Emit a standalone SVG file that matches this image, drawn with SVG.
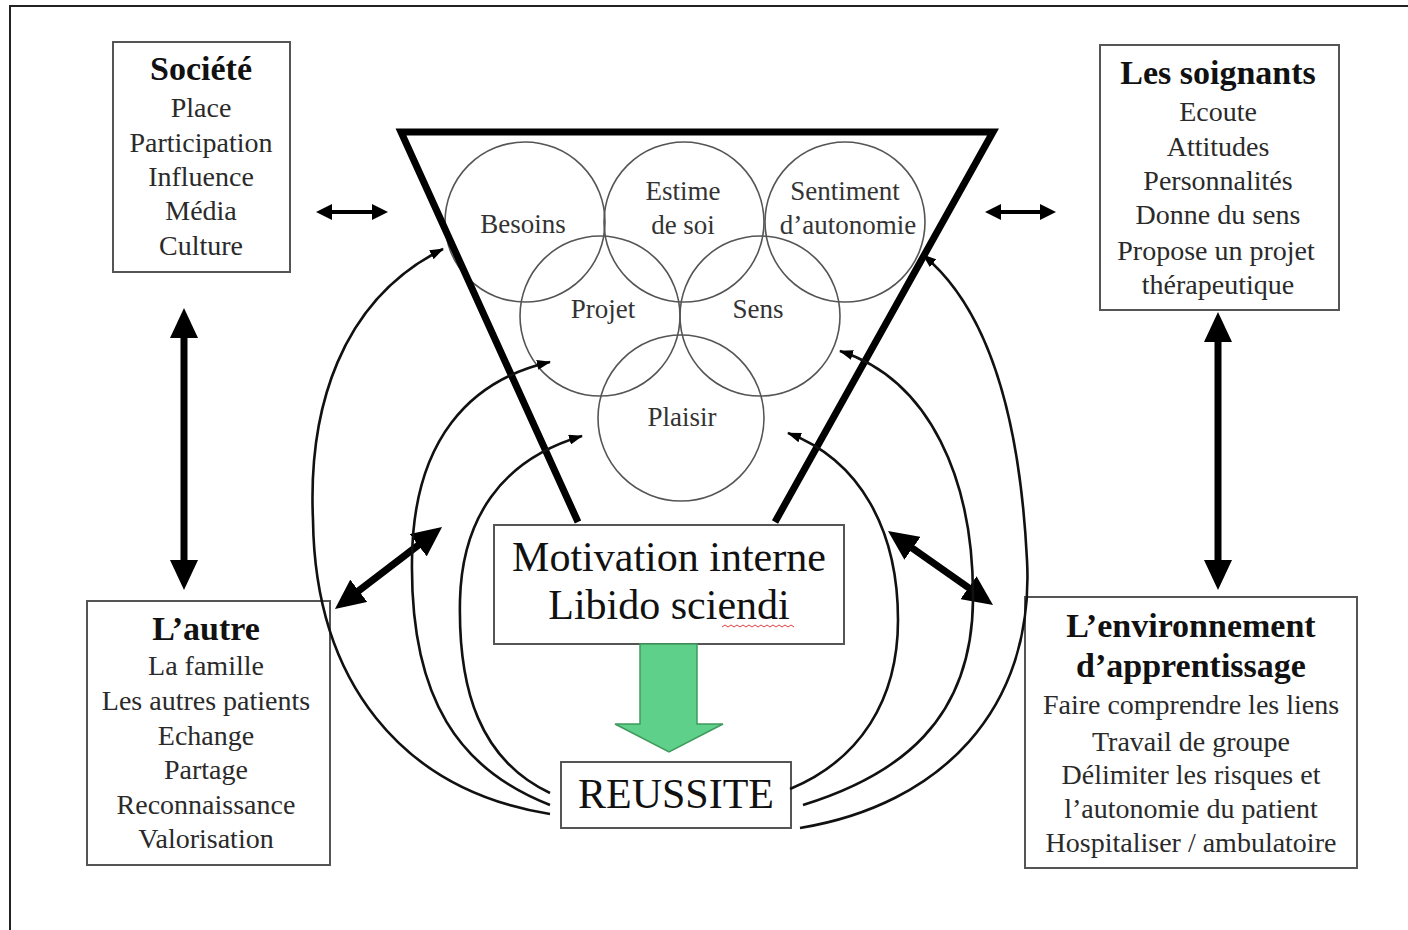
<svg xmlns="http://www.w3.org/2000/svg" width="1408" height="930" viewBox="0 0 1408 930">
<style>
.box{fill:#fff;stroke:#555;stroke-width:2}
.t{font-family:"Liberation Serif","Times New Roman",serif;font-size:28px;fill:#2a2a2a;text-anchor:middle}
.h{font-family:"Liberation Serif","Times New Roman",serif;font-size:34px;font-weight:bold;fill:#111;text-anchor:middle}
.c{font-family:"Liberation Serif","Times New Roman",serif;font-size:27px;fill:#333;text-anchor:middle}
.big{font-family:"Liberation Serif","Times New Roman",serif;font-size:42px;fill:#111;text-anchor:middle}
.circ{fill:none;stroke:#555;stroke-width:1.6}
.curve{fill:none;stroke:#111;stroke-width:2.6;marker-end:url(#hs)}
.thick{stroke:#000;stroke-width:7;marker-start:url(#hb);marker-end:url(#hb)}
.thin{stroke:#000;stroke-width:4;marker-start:url(#hm);marker-end:url(#hm)}
</style>
<defs>
<marker id="hb" viewBox="0 0 30 28" markerWidth="30" markerHeight="28" refX="6" refY="14" markerUnits="userSpaceOnUse" orient="auto-start-reverse"><path d="M0,0 L30,14 L0,28 z" fill="#000"/></marker>
<marker id="hm" viewBox="0 0 16 16" markerWidth="16" markerHeight="16" refX="4" refY="8" markerUnits="userSpaceOnUse" orient="auto-start-reverse"><path d="M0,0 L16,8 L0,16 z" fill="#000"/></marker>
<marker id="hs" viewBox="0 0 14 10" markerWidth="14" markerHeight="10" refX="13" refY="5" markerUnits="userSpaceOnUse" orient="auto"><path d="M0,0 L14,5 L0,10 z" fill="#000"/></marker>
</defs>
<rect width="1408" height="930" fill="#fff"/>
<path d="M10,930 L10,6 L1408,6" fill="none" stroke="#222" stroke-width="2"/>

<g id="societe">
<rect class="box" x="113" y="42" width="177" height="230"/>
<text class="h" x="201" y="80">Société</text>
<text class="t" x="201" y="117">Place</text>
<text class="t" x="201" y="152">Participation</text>
<text class="t" x="201" y="186">Influence</text>
<text class="t" x="201" y="220">Média</text>
<text class="t" x="201" y="255">Culture</text>
</g>

<g id="soignants">
<rect class="box" x="1100" y="45" width="239" height="265"/>
<text class="h" x="1218" y="84">Les soignants</text>
<text class="t" x="1218" y="121">Ecoute</text>
<text class="t" x="1218" y="156">Attitudes</text>
<text class="t" x="1218" y="190">Personnalités</text>
<text class="t" x="1218" y="224">Donne du sens</text>
<text class="t" x="1216" y="260">Propose un projet</text>
<text class="t" x="1218" y="294">thérapeutique</text>
</g>

<g id="autre">
<rect class="box" x="87" y="601" width="243" height="264"/>
<text class="h" x="206" y="640">L’autre</text>
<text class="t" x="206" y="675">La famille</text>
<text class="t" x="206" y="710">Les autres patients</text>
<text class="t" x="206" y="745">Echange</text>
<text class="t" x="206" y="779">Partage</text>
<text class="t" x="206" y="814">Reconnaissance</text>
<text class="t" x="206" y="848">Valorisation</text>
</g>

<g id="environnement">
<rect class="box" x="1025" y="597" width="332" height="271"/>
<text class="h" x="1191" y="637">L’environnement</text>
<text class="h" x="1191" y="677">d’apprentissage</text>
<text class="t" x="1191" y="714">Faire comprendre les liens</text>
<text class="t" x="1191" y="751">Travail de groupe</text>
<text class="t" x="1191" y="784">Délimiter les risques et</text>
<text class="t" x="1191" y="818">l’autonomie du patient</text>
<text class="t" x="1191" y="852">Hospitaliser / ambulatoire</text>
</g>

<g id="motivation">
<rect class="box" x="494" y="525" width="350" height="119"/>
<text class="big" x="669" y="571">Motivation interne</text>
<text class="big" x="669" y="619">Libido sciendi</text>
<path d="M722,627 l3,-2 l3,2 l3,-2 l3,2 l3,-2 l3,2 l3,-2 l3,2 l3,-2 l3,2 l3,-2 l3,2 l3,-2 l3,2 l3,-2 l3,2 l3,-2 l3,2 l3,-2 l3,2 l3,-2 l3,2 l3,-2 l3,2" fill="none" stroke="#e04040" stroke-width="1"/>
</g>

<g id="reussite">
<rect class="box" x="561" y="762" width="230" height="66"/>
<text class="big" x="676" y="808">REUSSITE</text>
</g>

<g id="fleche-verte">
<polygon points="640,644 697,644 697,724 723,724 669,752 615,724 640,724" fill="#5ed08a" stroke="#3f9a5e" stroke-width="1.5"/>
</g>

<g id="cercles">
<circle class="circ" cx="525" cy="222" r="80"/>
<circle class="circ" cx="684" cy="222" r="80"/>
<circle class="circ" cx="845" cy="222" r="80"/>
<circle class="circ" cx="600" cy="316" r="80"/>
<circle class="circ" cx="760" cy="316" r="80"/>
<circle class="circ" cx="681" cy="418" r="83"/>
<text class="c" x="523" y="233">Besoins</text>
<text class="c" x="683" y="200">Estime</text>
<text class="c" x="683" y="234">de soi</text>
<text class="c" x="845" y="200">Sentiment</text>
<text class="c" x="848" y="234">d’autonomie</text>
<text class="c" x="603" y="318">Projet</text>
<text class="c" x="758" y="318">Sens</text>
<text class="c" x="682" y="426">Plaisir</text>
</g>

<g id="entonnoir">
<polyline points="578,522 401,132 993,132 775,522" fill="none" stroke="#000" stroke-width="7" stroke-linejoin="miter"/>
</g>

<g id="connecteurs">
<line class="thin" x1="328" y1="212" x2="376" y2="212"/>
<line class="thin" x1="997" y1="212" x2="1044" y2="212"/>
<line class="thick" x1="184" y1="332" x2="184" y2="566"/>
<line class="thick" x1="1218" y1="336" x2="1218" y2="566"/>
<line class="thick" x1="354" y1="594.4" x2="423" y2="541.6"/>
<line class="thick" x1="907.6" y1="544.8" x2="973.4" y2="591.2"/>
<path class="curve" d="M550,814 C400,790 315,680 313,520 C308,410 340,300 443,249"/>
<path class="curve" d="M550,805 C460,770 410,700 412,560 C413,440 470,380 550,362"/>
<path class="curve" d="M550,793 C480,760 458,690 460,600 C462,520 500,460 582,436"/>
<path class="curve" d="M800,828 C940,805 1035,710 1027,560 C1020,420 990,310 923,255"/>
<path class="curve" d="M803,805 C900,775 972,720 973,600 C974,480 930,380 840,351"/>
<path class="curve" d="M790,789 C860,760 898,700 898,620 C898,530 860,460 788,433"/>
</g>
</svg>
